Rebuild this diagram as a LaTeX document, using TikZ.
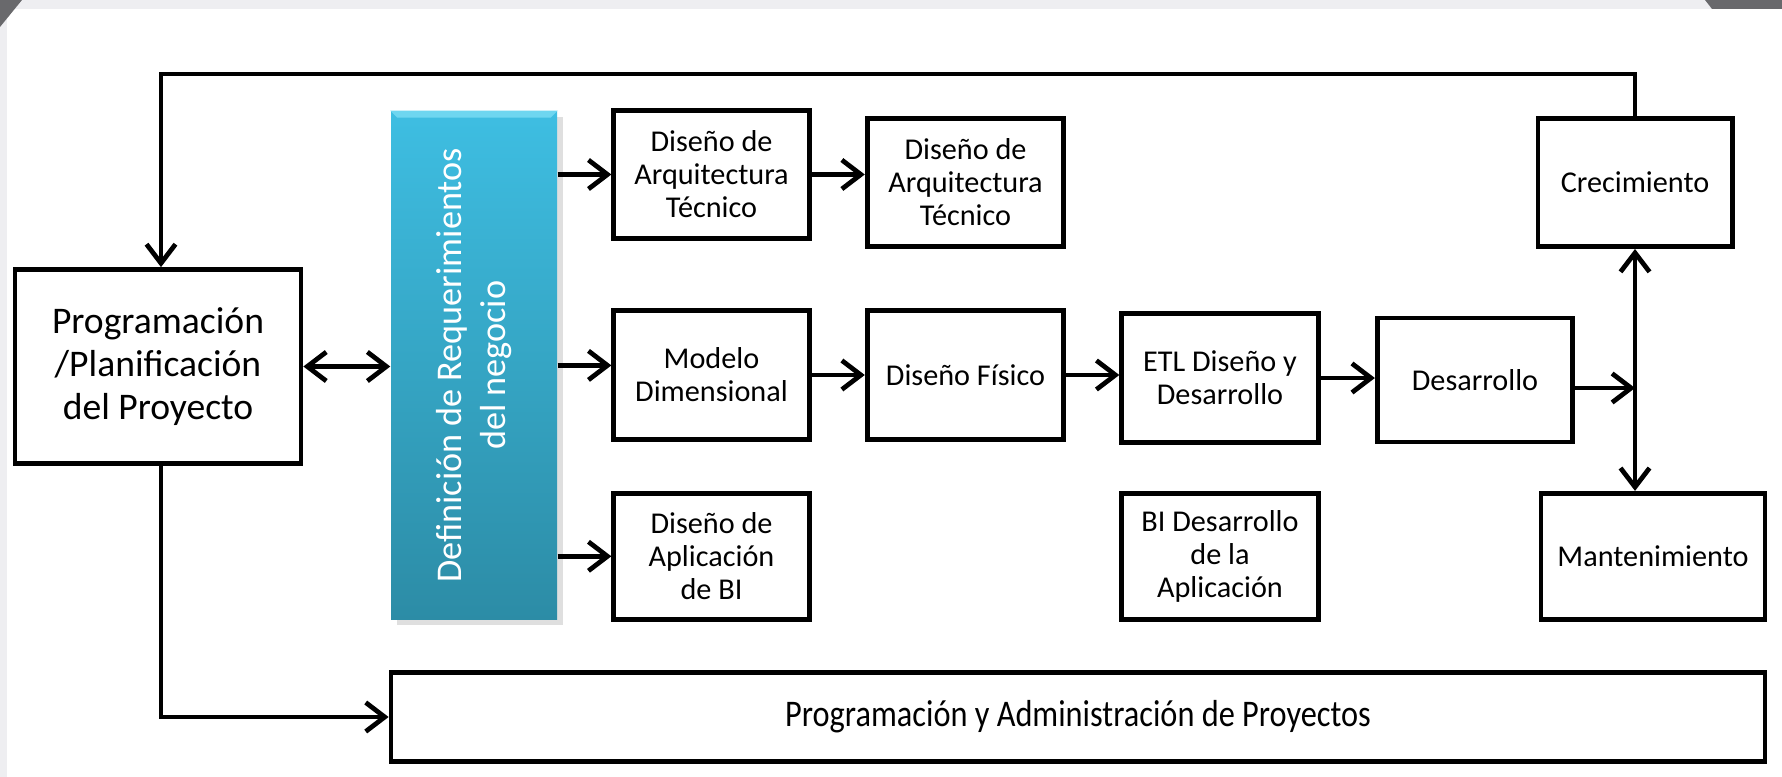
\documentclass[tikz,border=0pt]{standalone}
\usepackage{fontspec}
\setmainfont{Carlito}
\newfontfamily\narrowfont[FakeStretch=0.86]{Carlito}
\usetikzlibrary{positioning,arrows.meta,shadows}
\definecolor{bpBlueTop}{RGB}{62,190,226}
\definecolor{bpBlueBot}{RGB}{44,140,166}
\definecolor{bpBevel}{RGB}{110,214,240}
\definecolor{bpFrame}{RGB}{238,238,241}
\definecolor{bpCorner}{RGB}{105,105,108}
\tikzset{
    base/.style={align=center, text=black, inner sep=0pt},
    boxsize/.style 2 args={minimum width=#1cm, minimum height=#2cm},
    stage/.style={base, rectangle, draw=black, line width=1.35pt, fill=white,
                  font=\fontsize{8.6}{9.4}\selectfont},
    plan/.style={stage, font=\fontsize{10.7}{12.3}\selectfont},
    reqbar/.style={base, rectangle, top color=bpBlueTop, bottom color=bpBlueBot,
                   text=white, font=\fontsize{10.3}{12.3}\selectfont,
                   drop shadow={opacity=0.25, shadow xshift=0.6mm, shadow yshift=-0.6mm}},
    admin/.style={stage, font=\narrowfont\fontsize{10.7}{12}\selectfont},
    flow/.style={-{Straight Barb[length=1.9mm,width=2.9mm]}, line width=1.35pt},
    bothflow/.style={{Straight Barb[length=1.9mm,width=2.9mm]}-{Straight Barb[length=1.9mm,width=2.9mm]}, line width=1.35pt}
}

\begin{document}
\begin{tikzpicture}[y=-1cm]
  \useasboundingbox (0,0) rectangle (17.82,7.77);
  % Screen frame
  \fill[white] (0,0) rectangle (17.82,7.77);
  \fill[bpFrame] (0,0) rectangle (17.82,0.09);
  \fill[bpFrame] (0,0) rectangle (0.07,7.77);
  \fill[bpCorner] (0,0) -- (0.22,0) -- (0,0.27) -- cycle;
  \fill[bpCorner] (17.05,0) -- (17.82,0) -- (17.82,0.09) -- (17.12,0.09) -- cycle;

  % Stages
  \node[plan, boxsize={2.86}{1.94}] (prog) at (1.58,3.665)
    {Programación\\/Planificación\\del Proyecto};
  \node[reqbar, boxsize={1.66}{5.08}] (req) at (4.74,3.654) {};
  \fill[bpBevel] (req.north west) -- (req.north east) -- ([xshift=-0.7mm,yshift=-0.7mm]req.north east)
    -- ([xshift=0.7mm,yshift=-0.7mm]req.north west) -- cycle;
  \node[rotate=90, text=white, align=center, font=\fontsize{10.3}{12.3}\selectfont]
    (reqtext) at (req.center) {Definición de Requerimientos\\del negocio};

  \node[stage, boxsize={1.955}{1.285}] (arqA) at (7.115,1.745) {Diseño de\\Arquitectura\\Técnico};
  \node[stage, boxsize={1.967}{1.284}] (arqB) at (9.655,1.824) {Diseño de\\Arquitectura\\Técnico};
  \node[stage, boxsize={1.955}{1.295}] (modelo) at (7.115,3.75) {Modelo\\Dimensional};
  \node[stage, boxsize={1.967}{1.295}] (fisico) at (9.655,3.75) {Diseño Físico};
  \node[stage, boxsize={1.966}{1.284}] (etl) at (12.20,3.78) {ETL Diseño y\\Desarrollo};
  \node[stage, boxsize={1.955}{1.24}] (desa) at (14.75,3.80) {Desarrollo};
  \node[stage, boxsize={1.955}{1.262}] (apli) at (7.115,5.563) {Diseño de\\Aplicación\\de BI};
  \node[stage, boxsize={1.966}{1.262}] (bidesa) at (12.20,5.563) {BI Desarrollo\\de la\\Aplicación};
  \node[stage, boxsize={1.943}{1.284}] (crec) at (16.35,1.824) {Crecimiento};
  \node[stage, boxsize={2.24}{1.26}] (mant) at (16.53,5.563) {Mantenimiento};
  \node[admin, boxsize={13.74}{0.887}] (proy) at (10.78,7.17)
    {Programación y Administración de Proyectos};

  % Loop back and down
  \coordinate (topL) at (1.61,0.74);
  \coordinate (topR) at (crec.north |- topL);
  \draw[flow] (crec.north) -- (topR) -- (topL) -- (topL |- prog.north);
  \draw[flow] (topL |- prog.south) |- (proy.west);

  % Flows
  \draw[bothflow] (prog.east) -- (prog.east -| req.west);
  \draw[flow] (req.east |- arqA) -- (arqA.west);
  \draw[flow] (req.east) -- (req.east -| modelo.west);
  \draw[flow] (req.east |- apli) -- (apli.west);
  \draw[flow] (arqA.east) -- (arqA.east -| arqB.west);
  \draw[flow] (modelo.east) -- (modelo.east -| fisico.west);
  \draw[flow] (fisico.east) -- (fisico.east -| etl.west);
  \draw[flow] (etl.east) -- (etl.east -| desa.west);
  \draw[flow] ([yshift=-0.8mm]desa.east) -- ([yshift=-0.8mm]desa.east -| crec.south);
  \draw[bothflow] (crec.south) -- (crec.south |- mant.north);
\end{tikzpicture}
\end{document}
